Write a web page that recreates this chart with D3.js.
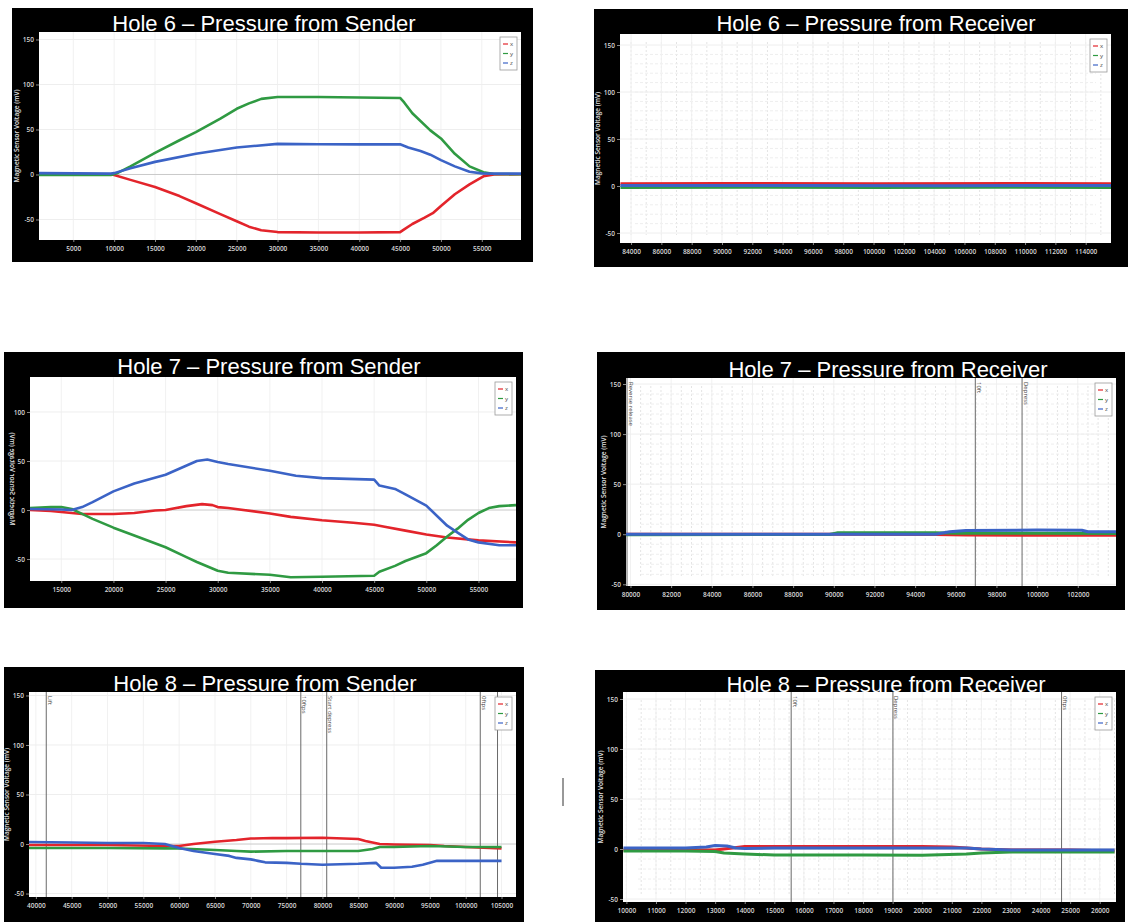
<!DOCTYPE html>
<html>
<head>
<meta charset="utf-8">
<script src="https://cdn.jsdelivr.net/npm/d3@7"></script>
<style>
  body { margin: 0; background: #fff; }
  svg { display: block; }
</style>
</head>
<body>
<svg id="chart" width="1130" height="922"></svg>
<script>
// ---- series: [sample, mV] ----
const seriesNames = ["x", "y", "z"];
const seriesColors = ["#e3242b", "#2f9a42", "#3b63c6"];

const hole6SenderX = [[800,0],[9600,0],[10000,-0.5],[12000,-6],[15000,-14],[18000,-24],[20000,-32],[23000,-44],[25000,-52],[26500,-58],[28000,-62],[30000,-64],[35000,-64.5],[40000,-64.5],[45000,-64],[45500,-61],[46500,-55],[48000,-48],[49000,-43],[50000,-35],[51700,-22],[53500,-11],[55200,-2],[56500,0],[59800,0.3]];
const hole6SenderY = [[800,-0.5],[9600,-0.5],[10500,2],[12000,9],[15000,24],[18000,38],[20000,47],[23000,62],[25000,73],[26500,79],[28000,84],[30000,86],[35000,86],[40000,85.5],[45000,85],[45500,80],[46500,68],[48700,49],[50000,40],[51700,23],[53500,9],[55200,2.5],[56500,0.5],[59800,0.3]];
const hole6SenderZ = [[800,1.5],[9600,1],[10000,1.5],[12000,7],[15000,14],[20000,23],[25000,30],[27500,32],[30000,34],[35000,33.5],[40000,33.5],[45000,33.5],[46000,30],[47500,26],[48700,22],[50000,16],[51700,9],[53500,3],[55000,1.2],[56500,1],[59800,1]];

const hole6ReceiverX = [[83300,2.4],[90000,2.6],[100000,2.5],[110000,2.6],[115700,2.5]];
const hole6ReceiverY = [[83300,-1.5],[92000,-1.2],[100000,-1.6],[108000,-1.3],[115700,-1.5]];
const hole6ReceiverZ = [[83300,0.5],[95000,0.6],[105000,0.4],[115700,0.5]];

const hole7SenderX = [[12000,0],[14000,-1],[16000,-3],[17000,-4],[20000,-4],[22000,-3],[24000,-0.5],[25000,0],[27000,4],[28500,6],[29500,5],[30000,3],[31000,2],[35000,-3.5],[37000,-7],[40000,-10.5],[43000,-13],[45000,-15],[46000,-17],[48000,-21],[50000,-25],[52000,-28],[55000,-31],[58600,-33]];
const hole7SenderY = [[12000,2],[14000,3],[15000,3],[16000,1],[17000,-4],[18000,-9],[20000,-18],[22000,-26],[25000,-38],[27000,-48],[28000,-53],[30000,-62],[31000,-64],[35000,-66],[37000,-68.5],[40000,-68],[45000,-67],[45500,-63],[47000,-57],[48000,-52],[50000,-44],[51000,-36],[52000,-27],[53000,-19],[54000,-10],[55000,-3],[56000,2],[57000,4],[58600,5]];
const hole7SenderZ = [[12000,1],[15000,0.5],[16000,0],[17000,3],[18000,8],[20000,19],[22000,27],[25000,36],[28000,50],[29000,51.5],[30000,49],[31000,47],[35000,40],[37500,35],[40000,32.5],[45000,31],[45500,25],[47000,21.5],[48000,16],[50000,4.5],[52000,-16],[53000,-23],[54000,-30],[55000,-33],[57000,-36],[58600,-36]];

const hole7ReceiverX = [[79780,0],[90000,0],[95000,-0.3],[96500,-0.8],[100000,-1],[103900,-1]];
const hole7ReceiverY = [[79780,-0.5],[89800,-0.3],[90200,1.5],[95000,1.5],[96000,1],[100000,1],[103900,0.8]];
const hole7ReceiverZ = [[79780,0],[95000,0],[95700,2.5],[96500,3.8],[100000,4.2],[102200,4],[102500,2.5],[103900,2.5]];

const hole8SenderX = [[39000,-1],[50000,-1],[58000,-2],[60000,-2],[62000,0],[65000,2.3],[68000,4],[70000,5.5],[73000,6],[75000,6],[80000,6.4],[85000,5],[86000,3],[87000,1.5],[88000,0],[90000,-0.5],[95000,-1],[97000,-2],[100000,-3],[105000,-4.4]];
const hole8SenderY = [[39000,-4],[50000,-4],[58000,-4.4],[60000,-4.5],[65000,-6],[68000,-7],[70000,-7.7],[75000,-7],[80000,-7],[85000,-7],[87000,-5],[88000,-3],[90000,-3],[95000,-2],[100000,-3],[105000,-3]];
const hole8SenderZ = [[39000,2],[45000,1.5],[50000,1],[55000,1],[58000,0],[59000,-2],[60000,-4],[62000,-7],[65000,-10],[67000,-12],[68000,-14],[70000,-15.5],[71000,-17],[72000,-18.5],[75000,-19],[77000,-20],[80000,-21],[85000,-20],[87500,-19],[88200,-24],[90000,-24],[92500,-23],[94000,-21],[95000,-19],[96000,-17],[100000,-17],[105000,-17]];

const hole8ReceiverX = [[9900,-1],[12000,-1],[13000,-1],[13300,0],[14000,2.5],[15000,2.5],[20000,2.5],[21000,2],[22000,0],[23000,-1],[25000,-1],[26500,-2]];
const hole8ReceiverY = [[9900,-2],[12000,-2],[13000,-2.5],[13300,-4],[14000,-5],[15000,-6],[18000,-6],[20000,-6.3],[21500,-5],[22000,-4],[23000,-3],[25000,-3],[26500,-3]];
const hole8ReceiverZ = [[9900,1],[12000,1],[12700,2],[13000,3.5],[13400,3],[13700,1],[14000,0.5],[15000,1],[20000,1],[21500,1],[22000,0],[23000,-1],[26500,-1]];

// ---- tick labels ----
const hole6SenderTicks = [5000,10000,15000,20000,25000,30000,35000,40000,45000,50000,55000];
const hole6ReceiverTicks = [84000,86000,88000,90000,92000,94000,96000,98000,100000,102000,104000,106000,108000,110000,112000,114000];
const hole7SenderTicks = [15000,20000,25000,30000,35000,40000,45000,50000,55000];
const hole7ReceiverTicks = [80000,82000,84000,86000,88000,90000,92000,94000,96000,98000,100000,102000];
const hole8SenderTicks = [40000,45000,50000,55000,60000,65000,70000,75000,80000,85000,90000,95000,100000,105000];
const hole8ReceiverTicks = [10000,11000,12000,13000,14000,15000,16000,17000,18000,19000,20000,21000,22000,23000,24000,25000,26000];
const voltTicks = [-50,0,50,100,150];
const voltTicksHole7 = [-50,0,50,100];

// ---- event markers ----
const hole7ReceiverMarkers = [{at:79830,label:"Reverse release"},{at:96960,label:"10ft"},{at:99260,label:"Depress"}];
const hole8SenderMarkers = [{at:41450,label:"Lift"},{at:76980,label:"10ftps"},{at:80600,label:"Start depress"},{at:102030,label:"0ftps"},{at:104440,label:""}];
const hole8ReceiverMarkers = [{at:15570,label:"10ft"},{at:19010,label:"Depress"},{at:24710,label:"0ftps"}];

// ---- panel layout ----
const panels = [
  {title:"Hole 6 – Pressure from Sender", tx:264, ty:31, box:[12,8,533,262], plot:[39,32,521,240],
   xDomain:[800,59800], yDomain:[-72.8,158.3], xTicks:hole6SenderTicks, yTicks:voltTicks,
   series:[hole6SenderX,hole6SenderY,hole6SenderZ], markers:[], minor:false},
  {title:"Hole 6 – Pressure from Receiver", tx:876, ty:30.5, box:[594,9,1128,267], plot:[620,34,1111,243],
   xDomain:[83270,115670], yDomain:[-60.6,161.7], xTicks:hole6ReceiverTicks, yTicks:voltTicks,
   series:[hole6ReceiverX,hole6ReceiverY,hole6ReceiverZ], markers:[], minor:true},
  {title:"Hole 7 – Pressure from Sender", tx:269, ty:374, box:[4,352,523,608], plot:[30,377,516,581],
   xDomain:[12000,58600], yDomain:[-72.4,135.7], xTicks:hole7SenderTicks, yTicks:voltTicksHole7,
   series:[hole7SenderX,hole7SenderY,hole7SenderZ], markers:[], minor:false, mirrorLabel:true},
  {title:"Hole 7 – Pressure from Receiver", tx:888, ty:376.5, box:[597,352,1125,610], plot:[626,378,1116,586],
   xDomain:[79780,103880], yDomain:[-51.7,156], xTicks:hole7ReceiverTicks, yTicks:voltTicks,
   series:[hole7ReceiverX,hole7ReceiverY,hole7ReceiverZ], markers:hole7ReceiverMarkers, minor:true},
  {title:"Hole 8 – Pressure from Sender", tx:265, ty:690.5, box:[4,667,524,922], plot:[29,692,516,897],
   xDomain:[39040,107020], yDomain:[-53.5,153.5], xTicks:hole8SenderTicks, yTicks:voltTicks,
   series:[hole8SenderX,hole8SenderY,hole8SenderZ], markers:hole8SenderMarkers, minor:false},
  {title:"Hole 8 – Pressure from Receiver", tx:886, ty:691.5, box:[595,670,1125,922], plot:[623,692,1116,902],
   xDomain:[9885,26550], yDomain:[-53,157], xTicks:hole8ReceiverTicks, yTicks:voltTicks,
   series:[hole8ReceiverX,hole8ReceiverY,hole8ReceiverZ], markers:hole8ReceiverMarkers, minor:true}
];

const svg = d3.select("#chart");
const defs = svg.append("defs");

panels.forEach((p, i) => {
  const [left, top, right, bottom] = p.plot;
  const g = svg.append("g");

  g.append("rect")
    .attr("x", p.box[0]).attr("y", p.box[1])
    .attr("width", p.box[2] - p.box[0]).attr("height", p.box[3] - p.box[1])
    .attr("fill", "#000");

  // title sits in the black band; plot area may clip its foot
  g.append("text")
    .attr("x", p.tx).attr("y", p.ty)
    .attr("text-anchor", "middle")
    .attr("font-family", "Liberation Sans, Arial, sans-serif")
    .attr("font-size", 22)
    .attr("fill", "#fff")
    .text(p.title);

  g.append("rect")
    .attr("x", left).attr("y", top)
    .attr("width", right - left).attr("height", bottom - top)
    .attr("fill", "#fff");

  const x = d3.scaleLinear().domain(p.xDomain).range([left, right]);
  const y = d3.scaleLinear().domain(p.yDomain).range([bottom, top]);

  // faint grid
  if (p.minor) {
    g.append("g").selectAll("line")
      .data(x.ticks(40))
      .join("line")
      .attr("x1", d => x(d)).attr("x2", d => x(d))
      .attr("y1", top + 8).attr("y2", bottom - 8)
      .attr("stroke", "#e4e4e4").attr("stroke-dasharray", "2,2");
    g.append("g").selectAll("line")
      .data(d3.range(-40, 150, 10))
      .join("line")
      .attr("x1", left + 15).attr("x2", right - 15)
      .attr("y1", d => y(d)).attr("y2", d => y(d))
      .attr("stroke", "#eeeeee").attr("stroke-dasharray", "3,2");
  }
  g.append("g").selectAll("line")
    .data(p.xTicks)
    .join("line")
    .attr("x1", d => x(d)).attr("x2", d => x(d))
    .attr("y1", top).attr("y2", bottom)
    .attr("stroke", "#f1f1f1");
  g.append("g").selectAll("line")
    .data(p.yTicks.filter(d => d !== 0))
    .join("line")
    .attr("x1", left).attr("x2", right)
    .attr("y1", d => y(d)).attr("y2", d => y(d))
    .attr("stroke", "#eeeeee");
  g.append("line")
    .attr("x1", left).attr("x2", right)
    .attr("y1", y(0)).attr("y2", y(0))
    .attr("stroke", "#c9c9c9");

  // axes
  const xAxis = g.append("g")
    .attr("transform", `translate(0,${bottom})`)
    .call(d3.axisBottom(x).tickValues(p.xTicks).tickFormat(d => String(d)).tickSize(2).tickPadding(4));
  const yAxis = g.append("g")
    .attr("transform", `translate(${left},0)`)
    .call(d3.axisLeft(y).tickValues(p.yTicks).tickFormat(d => String(d)).tickSize(3).tickPadding(2));
  [xAxis, yAxis].forEach(a => {
    a.select(".domain").remove();
    a.selectAll("line").attr("stroke", "#888");
    a.selectAll("text")
      .attr("fill", "#d8d8d8")
      .attr("font-family", "Open Sans, sans-serif")
      .attr("font-size", 6.5)
      .attr("font-weight", 600);
  });

  // y label
  const midY = (top + bottom) / 2;
  g.append("text")
    .attr("transform", p.mirrorLabel
      ? `translate(${left - 20},${midY}) rotate(-90) scale(1,-1)`
      : `translate(${left - 20},${midY}) rotate(-90)`)
    .attr("text-anchor", "middle")
    .attr("font-family", "Open Sans, sans-serif")
    .attr("font-size", 6.5)
    .attr("font-weight", 600)
    .attr("fill", "#e0e0e0")
    .text("Magnetic Sensor Voltage (mV)");

  // clip
  defs.append("clipPath").attr("id", "clip" + i)
    .append("rect")
    .attr("x", left).attr("y", top)
    .attr("width", right - left).attr("height", bottom - top);
  const inner = g.append("g").attr("clip-path", `url(#clip${i})`);

  // event markers
  p.markers.forEach(m => {
    inner.append("line")
      .attr("x1", x(m.at)).attr("x2", x(m.at))
      .attr("y1", top).attr("y2", bottom)
      .attr("stroke", "#6a6a6a").attr("stroke-width", 1);
    inner.append("text")
      .attr("transform", `translate(${x(m.at) + 1.5},${top + 4}) rotate(90)`)
      .attr("font-family", "Open Sans, sans-serif")
      .attr("font-size", 6)
      .attr("fill", "#444")
      .text(m.label);
  });

  // lines
  const line = d3.line().x(d => x(d[0])).y(d => y(d[1]));
  p.series.forEach((s, k) => {
    inner.append("path")
      .datum(s)
      .attr("fill", "none")
      .attr("stroke", seriesColors[k])
      .attr("stroke-width", p.minor ? 3 : 2.6)
      .attr("stroke-linejoin", "round")
      .attr("d", line);
  });

  // legend
  const lg = g.append("g").attr("transform", `translate(${right - 21},${top + 5})`);
  lg.append("rect")
    .attr("width", 17).attr("height", 33)
    .attr("fill", "#fff").attr("stroke", "#9a9a9a").attr("stroke-width", 0.8);
  seriesNames.forEach((n, k) => {
    lg.append("line")
      .attr("x1", 3).attr("x2", 8)
      .attr("y1", 7 + k * 9.5).attr("y2", 7 + k * 9.5)
      .attr("stroke", seriesColors[k]).attr("stroke-width", 1.2);
    lg.append("text")
      .attr("x", 10).attr("y", 9 + k * 9.5)
      .attr("font-family", "Open Sans, sans-serif")
      .attr("font-size", 6)
      .attr("fill", "#444")
      .text(n);
  });
});

// stray separator mark between the bottom panels
svg.append("line")
  .attr("x1", 563).attr("x2", 563)
  .attr("y1", 778).attr("y2", 806)
  .attr("stroke", "#333").attr("stroke-width", 1);
</script>
</body>
</html>
